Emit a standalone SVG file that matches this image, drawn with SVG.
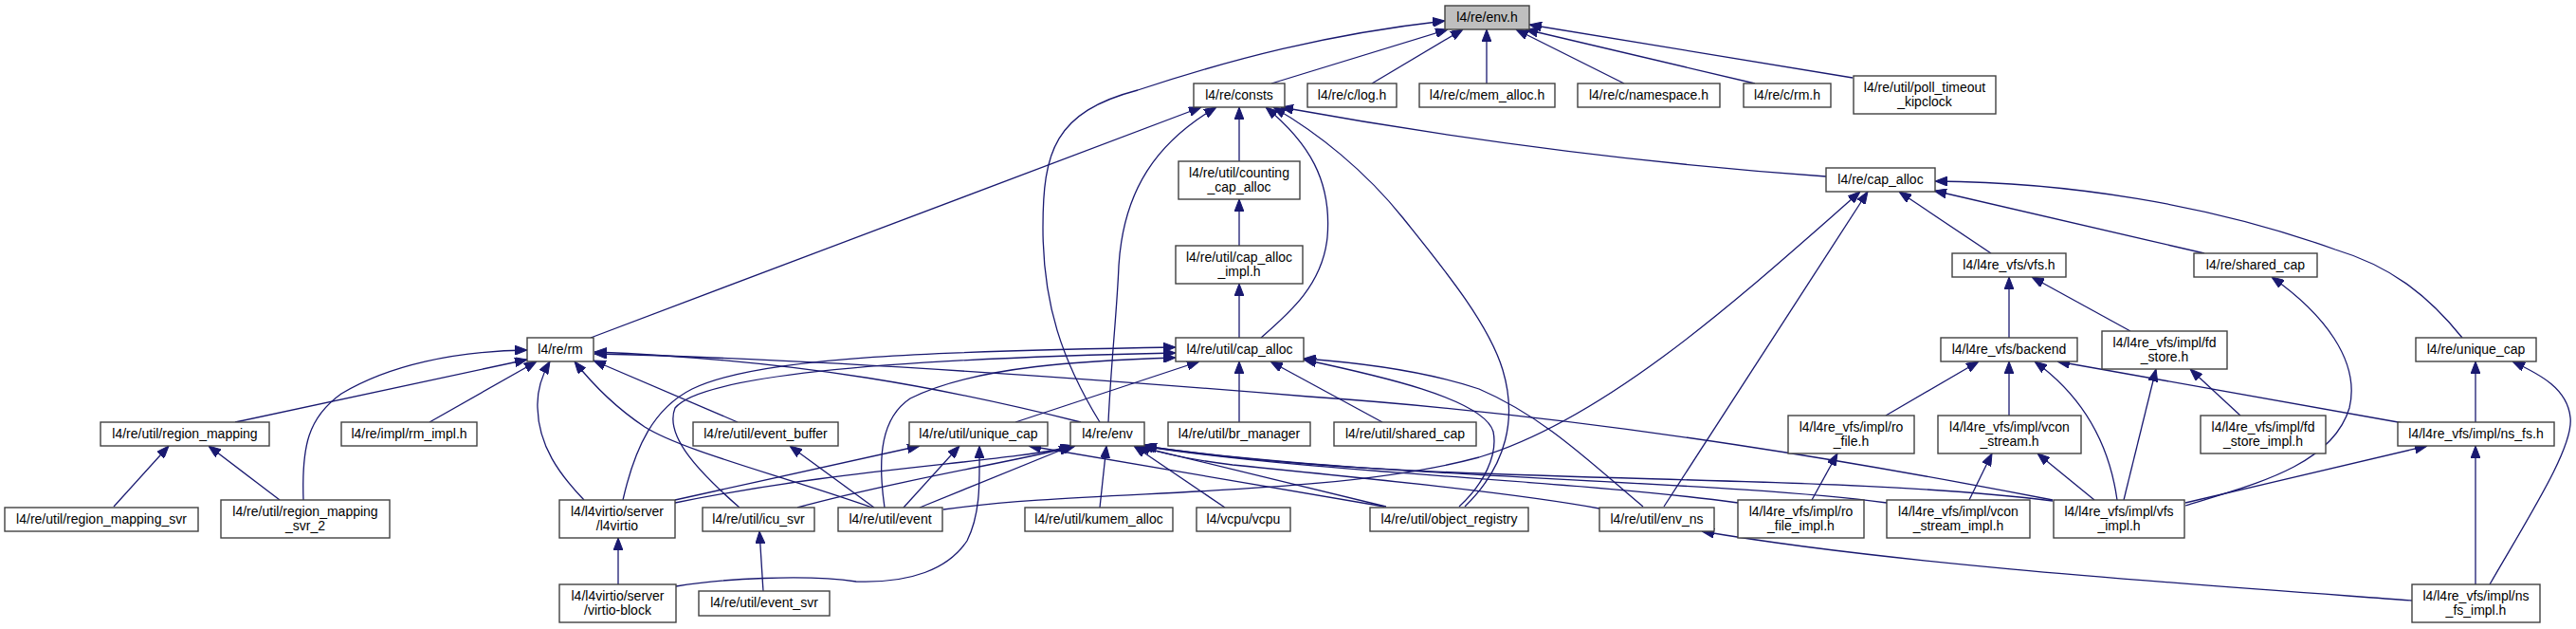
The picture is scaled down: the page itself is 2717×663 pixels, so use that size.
<svg xmlns="http://www.w3.org/2000/svg" width="2717" height="663" viewBox="0 0 2717 663">
<style>
.n rect{fill:#ffffff;stroke:#404040;stroke-width:1.4}
.n.root rect{fill:#bfbfbf}
.n text{font-family:"Liberation Sans",Arial,sans-serif;font-size:14px;fill:#000;text-anchor:middle}
#edges path{fill:none;stroke:#191970;stroke-width:1.3;marker-end:url(#ah)}
</style>
<defs>
<marker id="ah" markerUnits="userSpaceOnUse" markerWidth="13" markerHeight="10" refX="13" refY="5" orient="auto">
<path d="M0,0 L13,5 L0,10 Z" fill="#191970" stroke="#191970" stroke-width="1"/>
</marker>
</defs>
<rect width="2717" height="663" fill="#ffffff"/>
<g id="edges">
<path d="M1341,88 L1527,31"/>
<path d="M1447,88 L1543,31"/>
<path d="M1568,88 L1568,31"/>
<path d="M1713,88 L1599,31"/>
<path d="M1851,88 L1609,31"/>
<path d="M1954,82 L1613,26"/>
<path d="M1160,445 C1120,380 1100,320 1100,240 C1100,160 1112,118 1200,95 C1300,62 1400,36 1524,22"/>
<path d="M623,356 L1267,113"/>
<path d="M1169,445 C1172,380 1178,330 1180,280 C1185,200 1220,150 1283,113"/>
<path d="M1307,170 L1307,113"/>
<path d="M1307,259 L1307,210"/>
<path d="M1307,356 L1307,299"/>
<path d="M1330,356 C1360,330 1395,300 1400,250 C1405,190 1380,150 1335,113"/>
<path d="M1545,534 C1590,490 1600,440 1585,390 C1570,340 1520,280 1480,230 C1440,180 1390,140 1343,113"/>
<path d="M1926,186 C1700,170 1500,140 1351,113"/>
<path d="M2100,267 L2003,202"/>
<path d="M2325,267 L2040,201"/>
<path d="M2597,356 C2560,310 2520,280 2463,263 C2330,215 2180,192 2041,191"/>
<path d="M995,537 C1150,515 1400,525 1560,482 C1700,440 1850,300 1962,202"/>
<path d="M1755,534 L1970,202"/>
<path d="M2119,356 L2119,292"/>
<path d="M2247,349 L2143,292"/>
<path d="M2305,533 C2380,510 2460,490 2478,430 C2490,380 2450,330 2396,292"/>
<path d="M2611,445 L2611,381"/>
<path d="M2626,616 C2670,540 2715,470 2711,440 C2708,410 2680,395 2650,381"/>
<path d="M1989,438 L2087,381"/>
<path d="M2119,438 L2119,381"/>
<path d="M2233,527 C2225,470 2200,420 2146,381"/>
<path d="M2535,446 L2170,381"/>
<path d="M2240,527 L2274,389"/>
<path d="M2363,438 L2310,389"/>
<path d="M1911,527 L1938,478"/>
<path d="M2077,527 L2101,478"/>
<path d="M2209,527 L2149,478"/>
<path d="M2305,530 L2560,470"/>
<path d="M2611,616 L2611,470"/>
<path d="M2544,633 C2300,615 2000,595 1795,560"/>
<path d="M248,445 L556,379"/>
<path d="M320,527 C318,470 325,440 360,415 C410,385 480,370 556,369"/>
<path d="M453,445 L566,381"/>
<path d="M616,527 C590,500 568,470 567,430 C566,410 572,395 580,381"/>
<path d="M920,535 C820,500 720,475 680,450 C650,430 625,405 606,381"/>
<path d="M778,445 L626,380"/>
<path d="M1140,445 C1000,410 850,380 627,371"/>
<path d="M2165,527 C2000,495 1700,440 1380,418 C1100,395 850,378 627,373"/>
<path d="M657,527 C670,470 690,430 730,410 C800,375 1000,370 1240,366"/>
<path d="M780,535 C740,500 700,460 712,430 C740,395 950,378 1240,372"/>
<path d="M933,535 C925,480 930,440 960,420 C1030,385 1150,380 1240,377"/>
<path d="M1071,445 L1265,381"/>
<path d="M1307,445 L1307,381"/>
<path d="M1458,445 L1340,381"/>
<path d="M1539,534 C1565,510 1580,480 1575,455 C1565,420 1450,395 1375,379"/>
<path d="M1733,534 C1680,490 1630,440 1560,410 C1500,390 1430,382 1375,378"/>
<path d="M922,535 L833,470"/>
<path d="M712,527 L970,470"/>
<path d="M953,535 L1012,470"/>
<path d="M713,618 C760,610 850,605 903,613 C960,615 1000,600 1020,570 C1035,540 1033,505 1033,470"/>
<path d="M1460,534 L1085,470"/>
<path d="M712,530 C900,492 1060,488 1132,470"/>
<path d="M841,535 C950,505 1080,485 1134,470"/>
<path d="M970,535 L1130,470"/>
<path d="M1160,535 L1167,470"/>
<path d="M1292,535 L1196,470"/>
<path d="M1462,534 L1198,470"/>
<path d="M1687,536 C1600,520 1450,505 1300,490 C1260,485 1225,478 1200,470"/>
<path d="M1833,530 C1650,505 1400,500 1203,470"/>
<path d="M1990,530 C1800,505 1450,505 1205,470"/>
<path d="M2165,528 C1900,495 1500,515 1207,470"/>
<path d="M805,623 L801,560"/>
<path d="M652,616 L652,567"/>
<path d="M120,534 L178,470"/>
<path d="M295,527 L220,470"/>
</g>
<g id="n_env_h" class="n root"><rect x="1524" y="6" width="89" height="25"/><text x="1568.5" y="22.5">l4/re/env.h</text></g>
<g id="n_consts" class="n"><rect x="1259" y="88" width="96" height="25"/><text x="1307" y="104.5">l4/re/consts</text></g>
<g id="n_log_h" class="n"><rect x="1379" y="88" width="94" height="25"/><text x="1426" y="104.5">l4/re/c/log.h</text></g>
<g id="n_mem_alloc_h" class="n"><rect x="1497" y="88" width="143" height="25"/><text x="1568.5" y="104.5">l4/re/c/mem_alloc.h</text></g>
<g id="n_namespace_h" class="n"><rect x="1664" y="88" width="150" height="25"/><text x="1739" y="104.5">l4/re/c/namespace.h</text></g>
<g id="n_c_rm_h" class="n"><rect x="1839" y="88" width="92" height="25"/><text x="1885" y="104.5">l4/re/c/rm.h</text></g>
<g id="n_poll_timeout" class="n"><rect x="1955" y="80" width="150" height="40"/><text x="2030" y="97">l4/re/util/poll_timeout</text><text x="2030" y="112">_kipclock</text></g>
<g id="n_counting" class="n"><rect x="1243" y="170" width="128" height="40"/><text x="1307" y="187">l4/re/util/counting</text><text x="1307" y="202">_cap_alloc</text></g>
<g id="n_re_cap_alloc" class="n"><rect x="1926" y="177" width="115" height="25"/><text x="1983.5" y="193.5">l4/re/cap_alloc</text></g>
<g id="n_cap_alloc_impl" class="n"><rect x="1240" y="259" width="134" height="40"/><text x="1307" y="276">l4/re/util/cap_alloc</text><text x="1307" y="291">_impl.h</text></g>
<g id="n_vfs_h" class="n"><rect x="2059" y="267" width="120" height="25"/><text x="2119" y="283.5">l4/l4re_vfs/vfs.h</text></g>
<g id="n_re_shared_cap" class="n"><rect x="2314" y="267" width="130" height="25"/><text x="2379" y="283.5">l4/re/shared_cap</text></g>
<g id="n_rm" class="n"><rect x="556" y="356" width="70" height="25"/><text x="591" y="372.5">l4/re/rm</text></g>
<g id="n_util_cap_alloc" class="n"><rect x="1240" y="356" width="135" height="25"/><text x="1307.5" y="372.5">l4/re/util/cap_alloc</text></g>
<g id="n_backend" class="n"><rect x="2047" y="356" width="144" height="25"/><text x="2119" y="372.5">l4/l4re_vfs/backend</text></g>
<g id="n_fd_store" class="n"><rect x="2217" y="349" width="132" height="40"/><text x="2283" y="366">l4/l4re_vfs/impl/fd</text><text x="2283" y="381">_store.h</text></g>
<g id="n_re_unique_cap" class="n"><rect x="2548" y="356" width="127" height="25"/><text x="2611.5" y="372.5">l4/re/unique_cap</text></g>
<g id="n_region_mapping" class="n"><rect x="106" y="445" width="178" height="25"/><text x="195" y="461.5">l4/re/util/region_mapping</text></g>
<g id="n_rm_impl" class="n"><rect x="360" y="445" width="143" height="25"/><text x="431.5" y="461.5">l4/re/impl/rm_impl.h</text></g>
<g id="n_event_buffer" class="n"><rect x="731" y="445" width="153" height="25"/><text x="807.5" y="461.5">l4/re/util/event_buffer</text></g>
<g id="n_util_unique_cap" class="n"><rect x="959" y="445" width="146" height="25"/><text x="1032" y="461.5">l4/re/util/unique_cap</text></g>
<g id="n_re_env" class="n"><rect x="1129" y="445" width="78" height="25"/><text x="1168" y="461.5">l4/re/env</text></g>
<g id="n_br_manager" class="n"><rect x="1232" y="445" width="150" height="25"/><text x="1307" y="461.5">l4/re/util/br_manager</text></g>
<g id="n_util_shared_cap" class="n"><rect x="1407" y="445" width="150" height="25"/><text x="1482" y="461.5">l4/re/util/shared_cap</text></g>
<g id="n_ro_file" class="n"><rect x="1886" y="438" width="133" height="40"/><text x="1952.5" y="455">l4/l4re_vfs/impl/ro</text><text x="1952.5" y="470">_file.h</text></g>
<g id="n_vcon_stream" class="n"><rect x="2044" y="438" width="151" height="40"/><text x="2119.5" y="455">l4/l4re_vfs/impl/vcon</text><text x="2119.5" y="470">_stream.h</text></g>
<g id="n_fd_store_impl" class="n"><rect x="2321" y="438" width="132" height="40"/><text x="2387" y="455">l4/l4re_vfs/impl/fd</text><text x="2387" y="470">_store_impl.h</text></g>
<g id="n_ns_fs" class="n"><rect x="2529" y="445" width="165" height="25"/><text x="2611.5" y="461.5">l4/l4re_vfs/impl/ns_fs.h</text></g>
<g id="n_region_mapping_svr" class="n"><rect x="5" y="535" width="204" height="25"/><text x="107" y="551.5">l4/re/util/region_mapping_svr</text></g>
<g id="n_region_mapping_svr_2" class="n"><rect x="233" y="527" width="178" height="40"/><text x="322" y="544">l4/re/util/region_mapping</text><text x="322" y="559">_svr_2</text></g>
<g id="n_l4virtio" class="n"><rect x="590" y="527" width="122" height="40"/><text x="651" y="544">l4/l4virtio/server</text><text x="651" y="559">/l4virtio</text></g>
<g id="n_icu_svr" class="n"><rect x="741" y="535" width="118" height="25"/><text x="800" y="551.5">l4/re/util/icu_svr</text></g>
<g id="n_event" class="n"><rect x="884" y="535" width="110" height="25"/><text x="939" y="551.5">l4/re/util/event</text></g>
<g id="n_kumem_alloc" class="n"><rect x="1081" y="535" width="156" height="25"/><text x="1159" y="551.5">l4/re/util/kumem_alloc</text></g>
<g id="n_vcpu" class="n"><rect x="1262" y="535" width="99" height="25"/><text x="1311.5" y="551.5">l4/vcpu/vcpu</text></g>
<g id="n_object_registry" class="n"><rect x="1445" y="535" width="167" height="25"/><text x="1528.5" y="551.5">l4/re/util/object_registry</text></g>
<g id="n_env_ns" class="n"><rect x="1687" y="535" width="121" height="25"/><text x="1747.5" y="551.5">l4/re/util/env_ns</text></g>
<g id="n_ro_file_impl" class="n"><rect x="1833" y="527" width="133" height="40"/><text x="1899.5" y="544">l4/l4re_vfs/impl/ro</text><text x="1899.5" y="559">_file_impl.h</text></g>
<g id="n_vcon_stream_impl" class="n"><rect x="1990" y="527" width="151" height="40"/><text x="2065.5" y="544">l4/l4re_vfs/impl/vcon</text><text x="2065.5" y="559">_stream_impl.h</text></g>
<g id="n_vfs_impl" class="n"><rect x="2166" y="527" width="138" height="40"/><text x="2235" y="544">l4/l4re_vfs/impl/vfs</text><text x="2235" y="559">_impl.h</text></g>
<g id="n_virtio_block" class="n"><rect x="590" y="616" width="123" height="40"/><text x="651.5" y="633">l4/l4virtio/server</text><text x="651.5" y="648">/virtio-block</text></g>
<g id="n_event_svr" class="n"><rect x="737" y="623" width="138" height="26"/><text x="806" y="640">l4/re/util/event_svr</text></g>
<g id="n_ns_fs_impl" class="n"><rect x="2544" y="616" width="135" height="40"/><text x="2611.5" y="633">l4/l4re_vfs/impl/ns</text><text x="2611.5" y="648">_fs_impl.h</text></g>
</svg>
